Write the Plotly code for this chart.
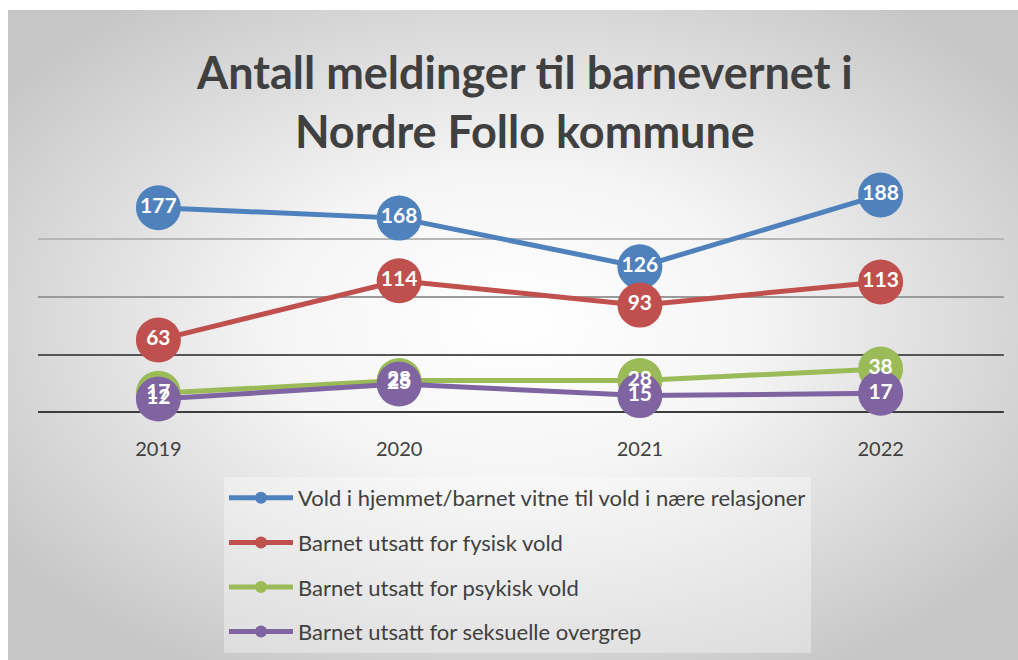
import base64
import plotly.graph_objects as go

years = ["2019", "2020", "2021", "2022"]
series_names = [
    "Vold i hjemmet/barnet vitne til vold i nære relasjoner",
    "Barnet utsatt for fysisk vold",
    "Barnet utsatt for psykisk vold",
    "Barnet utsatt for seksuelle overgrep",
]
vold_hjemmet = [177, 168, 126, 188]
fysisk_vold = [63, 114, 93, 113]
psykisk_vold = [17, 28, 28, 38]
seksuelle_overgrep = [12, 25, 15, 17]
series_values = [vold_hjemmet, fysisk_vold, psykisk_vold, seksuelle_overgrep]
colors = ["#4F81BD", "#C0504D", "#9BBB59", "#8064A2"]
grid_values = [0, 50, 100, 150]
grid_colors = ["#3c3c3c", "#555555", "#9a9a9a", "#b6b6b6"]
grid_widths = [4, 2, 2, 2]

FONT = "Lato"
TXT = "#404040"

fig = go.Figure()
for i, (name, vals, col) in enumerate(zip(series_names, series_values, colors)):
    fig.add_trace(go.Scatter(
        x=years, y=vals, name=name, mode="lines+markers",
        line=dict(color=col, width=5),
        marker=dict(color=col, size=45),
        legendgroup=f"g{i}", cliponaxis=False, hoverinfo="x+y+name",
    ))
for vals in series_values:
    fig.add_trace(go.Scatter(
        x=years, y=vals, mode="text", text=[str(v) for v in vals],
        textposition="middle center",
        textfont=dict(family=FONT, size=21, color="white", weight="bold"),
        showlegend=False, cliponaxis=False, hoverinfo="skip",
    ))

# gridlines drawn on the y scale
for gv, gc, gw in zip(grid_values, grid_colors, grid_widths):
    fig.add_shape(type="line", xref="paper", yref="y", x0=0, x1=1.003, y0=gv, y1=gv,
                  line=dict(color=gc, width=gw), layer="below")

svg = (
    '<svg xmlns="http://www.w3.org/2000/svg" width="1010" height="650" preserveAspectRatio="none">'
    '<defs><radialGradient id="g" cx="50%" cy="48%" r="62%">'
    '<stop offset="0%" stop-color="#ffffff"/><stop offset="38%" stop-color="#f5f5f5"/>'
    '<stop offset="100%" stop-color="#c6c6c6"/></radialGradient></defs>'
    '<rect width="1010" height="650" fill="url(#g)"/></svg>'
)
src = "data:image/svg+xml;base64," + base64.b64encode(svg.encode()).decode()

L, R, T, B = 38, 17, 181, 247
W, H = 1018, 660
pw, ph = W - L - R, H - T - B
fig.add_layout_image(dict(
    source=src, xref="paper", yref="paper",
    x=(8 - L) / pw, y=(H - B - 10) / ph,
    sizex=(W - 8) / pw, sizey=(H - 10) / ph,
    sizing="stretch", xanchor="left", yanchor="top", layer="below",
))

fig.add_annotation(
    text="<b>Antall meldinger til barnevernet i<br>Nordre Follo kommune</b>",
    xref="paper", yref="paper", x=(524 - L) / pw, y=(H - B - 101) / ph,
    xanchor="center", yanchor="middle", showarrow=False,
    font=dict(family=FONT, size=45, color=TXT), align="center",
)

fig.update_layout(
    width=W, height=H,
    margin=dict(l=L, r=R, t=T, b=B, autoexpand=False),
    paper_bgcolor="white", plot_bgcolor="rgba(0,0,0,0)",
    showlegend=True,
    legend=dict(
        x=(224 - L) / pw, y=(H - B - 477) / ph, xanchor="left", yanchor="top",
        bgcolor="rgba(255,255,255,0.35)", borderwidth=0,
        font=dict(family=FONT, size=22, color=TXT),
        tracegroupgap=13, itemsizing="constant", itemwidth=64,
    ),
    xaxis=dict(
        type="category", range=[-0.5, 3.5], showgrid=False, zeroline=False,
        showline=False, ticks="outside", ticklen=18, tickcolor="rgba(0,0,0,0)",
        tickfont=dict(family=FONT, size=20, color=TXT),
    ),
    yaxis=dict(range=[0, 200], showgrid=False, zeroline=False, showticklabels=False,
               showline=False),
)

fig.write_html("out.html")
